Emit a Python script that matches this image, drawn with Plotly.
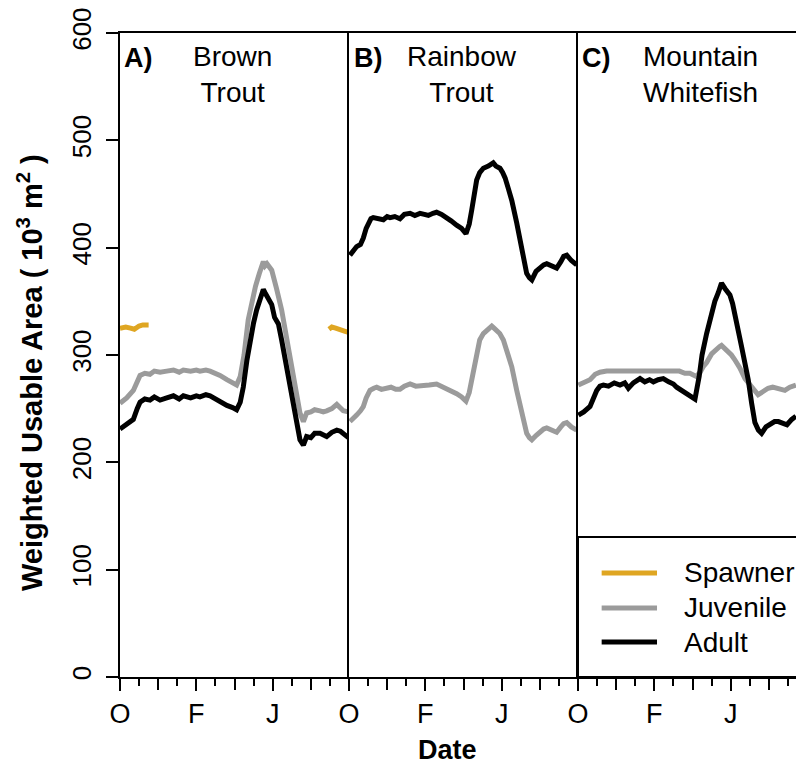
import plotly.graph_objects as go

# ---------------- data (x = months since 1 October) ----------------
brown_adult_x = [0.0, 0.35, 0.7, 0.9, 1.05, 1.3, 1.57, 1.8, 2.1, 2.45, 2.8, 3.1, 3.32, 3.7, 4.0, 4.19, 4.5, 4.72, 5.0, 5.24,
                 5.6, 5.9, 6.11, 6.3, 6.46, 6.65, 6.81, 7.0, 7.16, 7.35, 7.51, 7.6, 7.69, 7.85, 7.95, 8.1, 8.3, 8.47, 8.6,
                 8.74, 9.0, 9.26, 9.43, 9.61, 9.78, 10.0, 10.2, 10.48, 10.65, 10.83, 11.1, 11.36, 11.55, 11.7, 11.97]
brown_adult_y = [231, 235, 240, 250, 256, 259, 258, 261, 258, 260, 262, 259, 262, 260, 262, 261, 263, 262, 259, 257,
                 253, 251, 249, 256, 270, 295, 314, 330, 342, 352, 361, 358, 355, 350, 347, 335, 329, 314, 302,
                 289, 264, 240, 221, 216, 224, 223, 227, 227, 226, 224, 228, 230, 229, 227, 223]

brown_juv_x = [0.0, 0.35, 0.7, 0.9, 1.05, 1.3, 1.57, 1.8, 2.1, 2.45, 2.8, 3.1, 3.32, 3.7, 4.0, 4.19, 4.5, 4.72, 5.0, 5.24,
               5.6, 5.9, 6.11, 6.3, 6.5, 6.72, 6.9, 7.1, 7.3, 7.4, 7.51, 7.6, 7.7, 7.95, 8.1, 8.2, 8.47, 8.74, 9.0,
               9.13, 9.3, 9.43, 9.61, 9.78, 10.0, 10.2, 10.48, 10.65, 10.83, 11.1, 11.36, 11.55, 11.7, 11.97]
brown_juv_y = [255, 260, 267, 275, 281, 283, 282, 285, 284, 285, 286, 284, 286, 285, 286, 285, 286, 285, 283, 281,
               277, 274, 272, 280, 300, 333, 350, 364, 376, 380, 387, 383, 385, 379, 370, 362, 342, 314, 290,
               280, 262, 246, 238, 246, 247, 249, 248, 247, 248, 250, 254, 251, 248, 247]

brown_spawn_x = [0.0, 0.3, 0.55, 0.75, 1.0, 1.2, 1.5, None, 10.95, 11.1, 11.3, 11.55, 11.8, 11.97]
brown_spawn_y = [325, 326, 325, 324, 327, 328, 328, None, 324, 326, 325, 324, 322, 321]

rainbow_adult_x = [0.05, 0.25, 0.4, 0.6, 0.75, 0.9, 1.01, 1.15, 1.27, 1.5, 1.8, 2.0, 2.15, 2.4, 2.67, 2.9, 3.2, 3.45,
                   3.72, 3.95, 4.16, 4.4, 4.59, 4.85, 5.12, 5.35, 5.64, 5.9, 6.13, 6.3, 6.43, 6.55, 6.69, 6.85, 7.04,
                   7.3, 7.45, 7.56, 7.7, 7.91, 8.05, 8.18, 8.35, 8.53, 8.79, 9.05, 9.31, 9.45, 9.58, 9.8, 10.01,
                   10.2, 10.36, 10.6, 10.88, 11.1, 11.25, 11.41, 11.65, 11.93]
rainbow_adult_y = [393, 397, 401, 403, 409, 418, 423, 427, 428, 427, 426, 429, 428, 429, 427, 431, 432, 430,
                   432, 431, 430, 432, 433, 431, 427, 425, 421, 418, 413, 422, 435, 452, 463, 470, 474,
                   476, 478, 479, 476, 474, 470, 465, 455, 444, 423, 398, 376, 372, 370, 378, 382,
                   384, 385, 383, 381, 387, 392, 393, 388, 384]

rainbow_juv_x = [0.05, 0.25, 0.4, 0.6, 0.75, 0.9, 1.1, 1.3, 1.45, 1.7, 1.97, 2.2, 2.45, 2.67, 2.9, 3.2, 3.5, 3.9,
                 4.2, 4.59, 4.85, 5.12, 5.4, 5.64, 5.9, 6.13, 6.3, 6.43, 6.55, 6.69, 6.85, 7.04, 7.25, 7.48,
                 7.6, 7.73, 7.9, 8.09, 8.3, 8.53, 8.79, 9.05, 9.31, 9.45, 9.58, 9.8, 10.01, 10.2, 10.36, 10.6,
                 10.88, 11.1, 11.25, 11.41, 11.65, 11.93]
rainbow_juv_y = [238, 241, 244, 248, 252, 260, 267, 269, 270, 268, 269, 270, 268, 268, 271, 273, 271, 271,
                 272, 273, 271, 269, 266, 264, 261, 257, 265, 277, 292, 305, 314, 320, 323, 327,
                 325, 323, 320, 314, 303, 289, 267, 246, 227, 223, 221, 225, 229, 231, 232, 230,
                 228, 233, 236, 237, 233, 230]

white_adult_x = [0.02, 0.3, 0.63, 0.8, 0.98, 1.15, 1.33, 1.6, 1.9, 2.2, 2.45, 2.64, 2.9, 3.25, 3.5, 3.75, 3.95, 4.2,
                 4.47, 4.75, 5.0, 5.17, 5.5, 5.8, 6.13, 6.35, 6.5, 6.74, 7.0, 7.17, 7.35, 7.52, 7.7, 7.96, 8.1,
                 8.22, 8.4, 8.57, 8.75, 8.92, 9.1, 9.27, 9.45, 9.62, 9.85, 10.07, 10.3, 10.5, 10.75, 10.95, 11.2, 11.42]
white_adult_y = [244, 247, 252, 260, 267, 271, 272, 271, 274, 272, 274, 269, 274, 278, 275, 277, 275, 277,
                 278, 275, 273, 270, 266, 263, 259, 280, 300, 320, 340, 350, 358, 367, 362, 356, 348,
                 339, 322, 308, 292, 277, 255, 237, 230, 227, 233, 236, 238, 238, 236, 235, 240, 243]

white_juv_x = [0.02, 0.3, 0.63, 0.9, 1.15, 1.5, 2.0, 2.5, 3.0, 3.5, 4.0, 4.5, 5.0, 5.31, 5.6, 5.86, 6.2, 6.4, 6.56,
               6.74, 7.0, 7.2, 7.43, 7.52, 7.7, 8.04, 8.2, 8.48, 8.75, 9.01, 9.2, 9.44, 9.7, 9.96, 10.2, 10.4,
               10.65, 10.84, 11.1, 11.42]
white_juv_y = [272, 274, 277, 282, 284, 285, 285, 286, 286, 286, 286, 285, 286, 285, 283, 283, 280, 284, 289,
               293, 301, 305, 308, 309, 306, 300, 296, 288, 278, 273, 268, 263, 266, 269, 270, 269,
               268, 267, 270, 272]

panel_labels = ["A)", "B)", "C)"]
panel_titles = ["Brown<br>Trout", "Rainbow<br>Trout", "Mountain<br>Whitefish"]
label_tickvals = [0, 4, 8]
label_ticktext = ["O", "F", "J"]
mid_tickvals = [2, 6, 10]
y_tickvals = [0, 100, 200, 300, 400, 500, 600]
legend_names = ["Spawner", "Juvenile", "Adult"]

# ---------------- styling ----------------
GOLD = "#DFA622"
GREY = "#9B9B9B"
BLACK = "#000000"
FONT = "Liberation Sans, Arial, sans-serif"
LW = 5

fig = go.Figure()

def add(x, y, color, axis):
    fig.add_trace(go.Scatter(x=x, y=y, mode="lines", line=dict(color=color, width=LW),
                             xaxis="x" + axis, yaxis="y" + axis, showlegend=False,
                             connectgaps=False, hoverinfo="skip"))

add(brown_juv_x, brown_juv_y, GREY, "")
add(brown_adult_x, brown_adult_y, BLACK, "")
add(brown_spawn_x, brown_spawn_y, GOLD, "")
add(rainbow_juv_x, rainbow_juv_y, GREY, "2")
add(rainbow_adult_x, rainbow_adult_y, BLACK, "2")
add(white_juv_x, white_juv_y, GREY, "3")
add(white_adult_x, white_adult_y, BLACK, "3")

W, H = 796, 765
ML, MR, MT, MB = 120, 0, 33, 88
plot_w = W - ML - MR
panel_px = 229.0
d1 = panel_px / plot_w
d2 = 2 * panel_px / plot_w
c_range = (plot_w - 2 * panel_px) * 12.0 / panel_px
ranges = [[0, 12], [0, 12], [0, c_range]]
domains = [[0, d1], [d1, d2], [d2, 1]]

xcommon = dict(showline=True, linecolor="black", linewidth=2, mirror=True,
               tickmode="array", tickvals=label_tickvals, ticktext=label_ticktext,
               ticks="outside", ticklen=12, tickwidth=2, tickcolor="black",
               minor=dict(tickmode="linear", tick0=0, dtick=1, ticks="outside", ticklen=7,
                          tickwidth=2, tickcolor="black"),
               showgrid=False, zeroline=False, automargin=False,
               tickfont=dict(family=FONT, size=27, color="black"))
ycommon = dict(range=[0, 600], showgrid=False, zeroline=False, showline=True,
               linecolor="black", linewidth=2, mirror=False, automargin=False)

layout = dict(
    width=W, height=H,
    margin=dict(l=ML, r=MR, t=MT, b=MB, autoexpand=False),
    paper_bgcolor="white", plot_bgcolor="white",
    yaxis=dict(domain=[0, 1], anchor="x", tickmode="array", tickvals=y_tickvals,
               ticks="outside", ticklen=12, tickwidth=2, tickcolor="black", tickangle=-90,
               ticklabelstandoff=5,
               tickfont=dict(family=FONT, size=26, color="black"), **ycommon),
    yaxis2=dict(domain=[0, 1], anchor="x2", showticklabels=False, ticks="", **ycommon),
    yaxis3=dict(domain=[0, 1], anchor="x3", showticklabels=False, ticks="", **ycommon),
    showlegend=False,
)
axnames = ["", "2", "3"]
for i in range(3):
    layout["xaxis" + axnames[i]] = dict(domain=domains[i], range=ranges[i],
                                        anchor="y" + axnames[i], **xcommon)
    # overlay axis carrying the longer unlabeled ticks every other month
    layout["xaxis" + str(i + 4)] = dict(overlaying="x" + axnames[i], anchor="y" + axnames[i],
                                        side="bottom", range=ranges[i], domain=domains[i],
                                        tickmode="array", tickvals=mid_tickvals, ticks="outside",
                                        ticklen=12, tickwidth=2, tickcolor="black",
                                        showticklabels=False, showgrid=False, zeroline=False,
                                        showline=False, automargin=False)
    fig.add_trace(go.Scatter(x=[None], y=[None], xaxis="x" + str(i + 4), yaxis="y" + axnames[i],
                             showlegend=False, hoverinfo="skip"))
fig.update_layout(**layout)

def px_to_paper_x(px):
    return (px - ML) / plot_w

def px_to_paper_y(py):
    return (H - MB - py) / (H - MT - MB)

ann = []
label_left = [122, 352, 580]
title_center = [232, 462, 700]
for lab, tit, lx, tx in zip(panel_labels, panel_titles, label_left, title_center):
    ann.append(dict(text="<b>" + lab + "</b>", xref="paper", yref="paper",
                    x=px_to_paper_x(lx), y=px_to_paper_y(58), xanchor="left", yanchor="middle",
                    showarrow=False, font=dict(family=FONT, size=27, color="black")))
    ann.append(dict(text=tit, xref="paper", yref="paper",
                    x=px_to_paper_x(tx), y=px_to_paper_y(75), xanchor="center", yanchor="middle",
                    showarrow=False, font=dict(family=FONT, size=28, color="black")))

ann.append(dict(text="<b>Date</b>", xref="paper", yref="paper", x=px_to_paper_x(447),
                y=px_to_paper_y(750), xanchor="center", yanchor="middle", showarrow=False,
                font=dict(family=FONT, size=27, color="black")))
ann.append(dict(text="<b>Weighted Usable Area ( 10<sup>3</sup> m<sup>2</sup> )</b>", xref="paper",
                yref="paper", x=px_to_paper_x(30), y=px_to_paper_y(373), xanchor="center",
                yanchor="middle", textangle=-90, showarrow=False,
                font=dict(family=FONT, size=29, color="black")))

# legend (drawn in panel C coordinates)
leg_colors = [GOLD, GREY, BLACK]
leg_y = [96.9, 64.3, 32.6]
shapes = [dict(type="rect", xref="x3", yref="y3", x0=0, x1=12, y0=0, y1=130.4,
               line=dict(color="black", width=2), fillcolor="white", layer="below")]
for name, col, ly in zip(legend_names, leg_colors, leg_y):
    shapes.append(dict(type="line", xref="x3", yref="y3", x0=1.24, x1=4.14, y0=ly, y1=ly,
                       line=dict(color=col, width=LW)))
    ann.append(dict(text=name, xref="x3", yref="y3", x=5.45, y=ly, xanchor="left", yanchor="middle",
                    showarrow=False, font=dict(family=FONT, size=28, color="black")))

fig.update_layout(annotations=ann, shapes=shapes)
fig.write_html("out.html")
